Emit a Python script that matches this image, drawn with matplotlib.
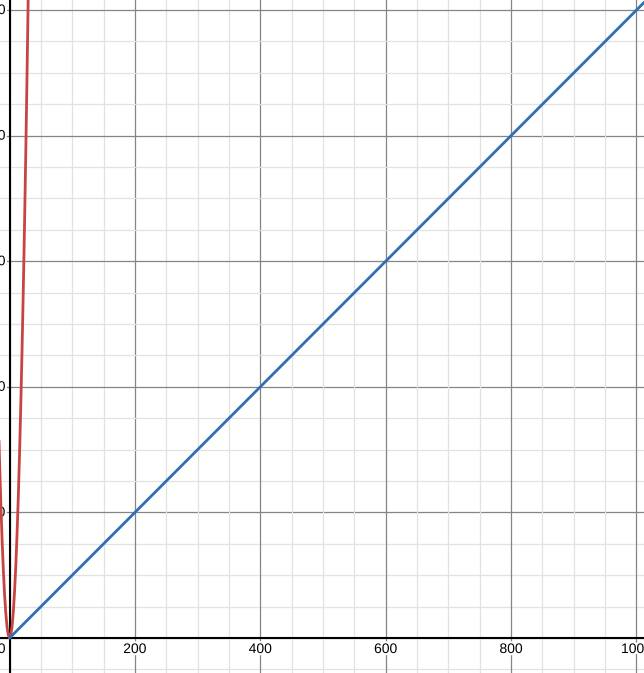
import matplotlib
matplotlib.use("Agg")
import matplotlib.pyplot as plt
import matplotlib.patheffects as pe
import numpy as np

# Data
line_x = [0, 200, 400, 600, 800, 1000, 1020]
line_y = [0, 200, 400, 600, 800, 1000, 1020]

curve_x = [-18, -16, -14, -12, -10, -8, -6, -4, -2, 0, 2, 4, 6, 8, 10, 12, 14, 16, 18, 20, 22, 24, 26, 28, 30, 32]
curve_y = [360, 285, 218, 160, 111, 71, 40, 18, 5, 0, 5, 18, 41, 74, 115, 166, 225, 294, 373, 460, 557, 662, 777, 902, 1035, 1178]

x_ticks = [200, 400, 600, 800, 1000]
y_ticks = [200, 400, 600, 800, 1000]
x_tick_labels = ["200", "400", "600", "800", "1000"]
y_tick_labels = ["200", "400", "600", "800", "1000"]

plt.rcParams['font.family'] = ['Liberation Sans', 'DejaVu Sans']

fig = plt.figure(figsize=(6.44, 6.73), dpi=100)
ax = fig.add_axes([0, 0, 1, 1])
ax.set_xlim(-15.2, 1012)
ax.set_ylim(-55.7, 1016)
ax.axis('off')

# grid
for v in np.arange(-50, 1051, 50):
    major = (v % 200 == 0)
    ax.axvline(v, color='#858585' if major else '#e2e2e2', lw=0.9, zorder=0)
    ax.axhline(v, color='#858585' if major else '#e2e2e2', lw=0.9, zorder=0)

ax.axvline(0, color='black', lw=1.5, zorder=1)
ax.axhline(0, color='black', lw=1.5, zorder=1)

halo = [pe.withStroke(linewidth=3, foreground='white')]
for v, s in zip(x_ticks, x_tick_labels):
    ax.annotate(s, xy=(v, 0), xytext=(0, -4), textcoords='offset pixels',
                ha='center', va='top', fontsize=10, path_effects=halo, zorder=3)
for v, s in zip(y_ticks, y_tick_labels):
    ax.annotate(s, xy=(0, v), xytext=(-4, 0), textcoords='offset pixels',
                ha='right', va='center', fontsize=10, path_effects=halo, zorder=3)
ax.annotate("0", xy=(0, 0), xytext=(-4, -4), textcoords='offset pixels',
            ha='right', va='top', fontsize=10, path_effects=halo, zorder=3)

ax.plot(curve_x, curve_y, color='#c74440', lw=2.0, zorder=4, solid_capstyle='round')
ax.plot(line_x, line_y, color='#2d70b3', lw=2.0, zorder=5, solid_capstyle='round')

fig.savefig("out.png", dpi=100)
